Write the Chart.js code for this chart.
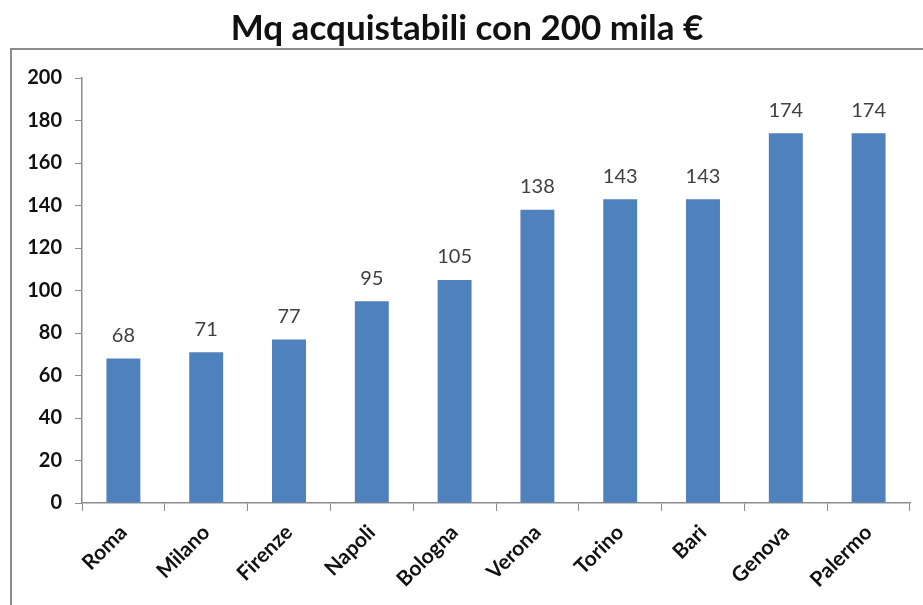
<!DOCTYPE html>
<html>
<head>
<meta charset="utf-8">
<script src="https://cdn.jsdelivr.net/npm/chart.js@4"></script>
<style>
  html, body { margin: 0; padding: 0; background: #fff; }
  #wrap { width: 923px; height: 605px; }
</style>
</head>
<body>
<div id="wrap"><canvas id="mq" width="923" height="605"></canvas></div>
<script>
const cities = ['Roma', 'Milano', 'Firenze', 'Napoli', 'Bologna', 'Verona', 'Torino', 'Bari', 'Genova', 'Palermo'];
const sqm = [68, 71, 77, 95, 105, 138, 143, 143, 174, 174];
const yTicks = [0, 20, 40, 60, 80, 100, 120, 140, 160, 180, 200];

const FONT = 'Lato, "Open Sans", sans-serif';

// cornice grigia attorno al grafico
const frame = {
  id: 'frame',
  beforeDraw(chart) {
    const c = chart.ctx;
    c.save();
    c.strokeStyle = '#8c8c8c';
    c.lineWidth = 2;
    c.strokeRect(11, 49, 940, 600);
    c.restore();
  }
};

// etichette dei valori sopra le barre
const valueLabels = {
  id: 'valueLabels',
  afterDatasetsDraw(chart) {
    const c = chart.ctx;
    const meta = chart.getDatasetMeta(0);
    c.save();
    c.font = '20px ' + FONT;
    c.fillStyle = '#404040';
    c.textAlign = 'center';
    c.textBaseline = 'middle';
    meta.data.forEach((bar, i) => {
      c.fillText(String(sqm[i]), bar.x, bar.y - 23);
    });
    c.restore();
  }
};

new Chart(document.getElementById('mq'), {
  type: 'bar',
  data: {
    labels: cities,
    datasets: [{
      data: sqm,
      backgroundColor: '#4f81bd',
      borderWidth: 0,
      barPercentage: 0.41,
      categoryPercentage: 1
    }]
  },
  options: {
    responsive: false,
    animation: false,
    layout: { padding: { left: 24, right: 13, top: 0, bottom: 0 } },
    plugins: {
      legend: { display: false },
      tooltip: { enabled: false },
      title: {
        display: true,
        text: 'Mq acquistabili con 200 mila €',
        color: '#111',
        font: { family: FONT, size: 35, weight: 'bold' },
        padding: { top: 8, bottom: 28 }
      }
    },
    scales: {
      x: {
        grid: { drawOnChartArea: false, drawTicks: true, tickLength: 8, color: '#8c8c8c' },
        border: { color: '#8c8c8c', width: 1.5 },
        ticks: {
          color: '#111',
          font: { family: FONT, size: 21, weight: 'bold' },
          minRotation: 45,
          maxRotation: 45,
          padding: 9
        },
        afterFit(scale) { scale.height = 102; }
      },
      y: {
        min: 0,
        max: 200,
        afterBuildTicks(scale) { scale.ticks = yTicks.map(v => ({ value: v })); },
        grid: { drawOnChartArea: false, drawTicks: true, tickLength: 7, color: '#8c8c8c' },
        border: { color: '#8c8c8c', width: 1.5 },
        ticks: {
          color: '#111',
          font: { family: FONT, size: 20, weight: 'bold' },
          padding: 13
        },
        afterFit(scale) { scale.width = 58; }
      }
    }
  },
  plugins: [frame, valueLabels]
});
</script>
</body>
</html>
